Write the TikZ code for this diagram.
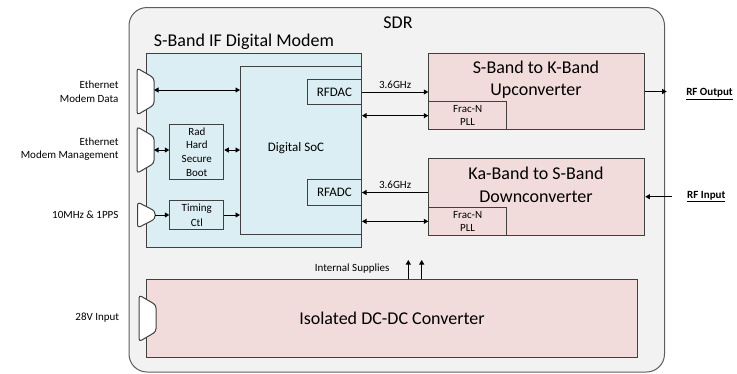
\documentclass[tikz,border=0pt]{standalone}
\usepackage{fontspec}
\setmainfont{Carlito}
\usetikzlibrary{arrows.meta,positioning}
\definecolor{sdrgray}{HTML}{F2F2F2}
\definecolor{modemblue}{HTML}{DBEEF3}
\definecolor{rfpink}{HTML}{F2DCDB}
\definecolor{edge}{HTML}{404040}

\begin{document}
\begin{tikzpicture}[x=1pt, y=-1pt,
  blk/.style = {draw=edge, line width=1pt, rectangle, anchor=north west, inner sep=0pt, align=center},
  port/.style = {draw=edge, fill=white, line width=1pt, rounded corners=3pt},
  big/.style = {font=\fontsize{18}{22.5}\selectfont, align=center},
  mid/.style = {font=\fontsize{13}{15}\selectfont},
  small/.style = {font=\fontsize{11}{13.6}\selectfont},
  link/.style = {draw=black, line width=0.8pt, -{Triangle[length=4.5pt,width=5pt]}},
  both/.style = {draw=black, line width=0.8pt, {Triangle[length=4.5pt,width=5pt]}-{Triangle[length=4.5pt,width=5pt]}}]
                \useasboundingbox (0,0) rectangle (737,373);
                \node[blk, draw=edge!85, fill=sdrgray, rounded corners=18pt, minimum width=535.5pt, minimum height=364.5pt] (sdr) at (128.5,7) {};
                \node[big] (sdrlbl) at (398,23) {SDR};
                \node[big] (modemlbl) at (244,42) {S-Band IF Digital Modem};
                \node[blk, fill=modemblue, minimum width=215.3pt, minimum height=194pt] (modem) at (145.7,52.7) {};
                \node[blk, fill=modemblue, minimum width=121pt, minimum height=168.3pt] (soc) at (240,65.7) {};
                \node[mid] (soclbl) at (296,148) {Digital SoC};
                \node[blk, mid, fill=modemblue, minimum width=54pt, minimum height=25pt] (dac) at (307,79) {RFDAC};
                \node[blk, mid, fill=modemblue, minimum width=54pt, minimum height=26pt] (adc) at (307,179) {RFADC};
                \node[blk, small, fill=modemblue, minimum width=54pt, minimum height=55pt] (boot) at (169.3,124) {Rad\\Hard\\Secure\\Boot};
                \node[blk, small, fill=modemblue, minimum width=54pt, minimum height=29pt, font=\fontsize{11}{15}\selectfont] (tim) at (169.3,200) {Timing\\Ctl};
                \node[blk, fill=rfpink, minimum width=215.7pt, minimum height=76.6pt] (up) at (428.3,52.7) {};
                \node[big] (uplbl) at (536,79.5) {S-Band to K-Band\\Upconverter};
                \node[blk, small, fill=rfpink, minimum width=77.7pt, minimum height=28.3pt] (pll1) at (428.3,101) {Frac-N\\PLL};
                \node[blk, fill=rfpink, minimum width=216pt, minimum height=77.3pt] (down) at (428.3,157.7) {};
                \node[big] (downlbl) at (536,185) {Ka-Band to S-Band\\Downconverter};
                \node[blk, small, fill=rfpink, minimum width=77.7pt, minimum height=28.3pt] (pll2) at (428.3,206.7) {Frac-N\\PLL};
                \node[blk, big, fill=rfpink, minimum width=491.6pt, minimum height=77.7pt] (dcdc) at (145.7,279) {Isolated DC-DC Converter};
                % connectors on the left edge
                \draw[port] (137,68) -- (154,78) -- (154,105) -- (137,115) -- cycle;
                \draw[port] (137,126.7) -- (154,136.7) -- (154,163.3) -- (137,173.3) -- cycle;
                \draw[port] (137.5,202) -- (155,211) -- (155,219) -- (137.5,228) -- cycle;
                \draw[port] (139,295) -- (156,305) -- (156,331.7) -- (139,341.7) -- cycle;
                \coordinate (p1) at (154,90);
                \coordinate (p2) at (154,150);
                \coordinate (p3) at (155,215);
                \node[small, anchor=east, align=right] (l1) at (122,92) {Ethernet\\Modem Data};
                \node[small, anchor=east, align=right] (l2) at (122,149) {Ethernet\\Modem Management};
                \node[small, anchor=east] (l3) at (122,215) {10MHz \& 1PPS};
                \node[small, anchor=east] (l4) at (122.7,318) {28V Input};
                \draw[both] (p1) -- (p1 -| soc.west);
                \draw[both] (p2) -- (p2 -| boot.west);
                \draw[both] (boot.east |- p2) -- (p2 -| soc.west);
                \draw[link] (p3) -- (p3 -| tim.west);
                \draw[link] (tim.east |- p3) -- (p3 -| soc.west);
                % links to the converters
                \draw[link] (dac.east) -- (dac.east -| up.west) node[small, midway, above] {3.6GHz};
                \draw[both] (pll1.west -| soc.east) -- (pll1.west);
                \draw[link] (adc.east -| down.west) -- (adc.east) node[small, midway, above] {3.6GHz};
                \draw[both] (pll2.west -| soc.east) -- (pll2.west);
                \coordinate (rfout) at (666.7,91.5);
                \coordinate (rfin) at (671.7,196.7);
                \draw[link] (rfout -| up.east) -- (rfout);
                \draw[link] (rfin) -- (rfin -| down.east);
                \node[small] (rfoutlbl) at (709.5,94) {\textbf{\underline{RF Output}}};
                \node[small] (rfinlbl) at (706.3,196.7) {\textbf{\underline{RF Input}}};
                % supplies
                \coordinate (s1) at (408.3,260);
                \coordinate (s2) at (421.7,260);
                \draw[link] (s1 |- dcdc.north) -- (s1);
                \draw[link] (s2 |- dcdc.north) -- (s2);
                \node[small, anchor=east] (supplbl) at (393,269) {Internal Supplies};
            \end{tikzpicture}
\end{document}
